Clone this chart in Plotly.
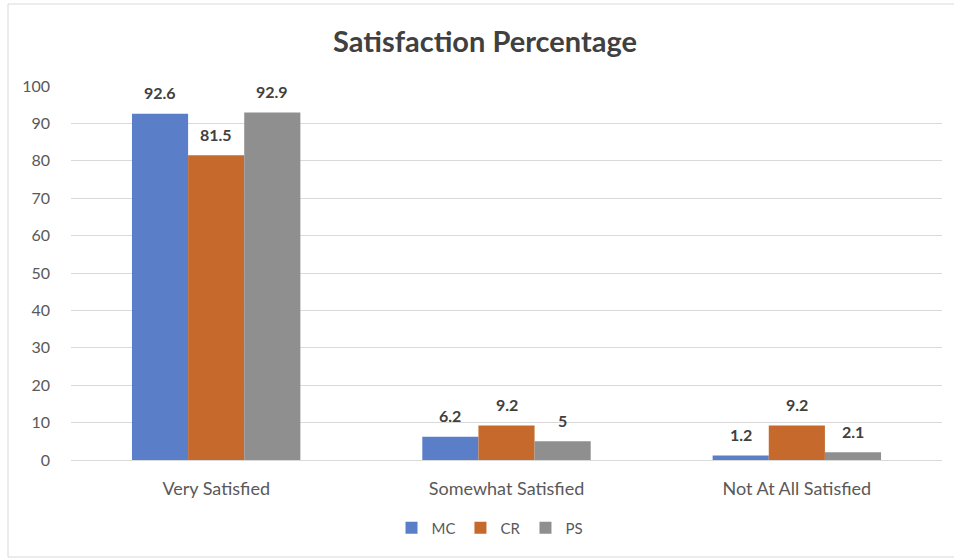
import plotly.graph_objects as go

categories = ["Very Satisfied", "Somewhat Satisfied", "Not At All Satisfied"]
series_names = ["MC", "CR", "PS"]
mc = [92.6, 6.2, 1.2]
cr = [81.5, 9.2, 9.2]
ps = [92.9, 5, 2.1]
colors = ["#5B7EC9", "#C5692C", "#8F8F8F"]
y_ticks = [0, 10, 20, 30, 40, 50, 60, 70, 80, 90, 100]

FONT = "Lato, 'Open Sans', sans-serif"
W, H = 954, 560
L, R, T, B = 71, 12, 86, 100
PW, PH = W - L - R, H - T - B
BARGAP = 0.42
bar_px = PW / len(categories) * (1 - BARGAP) / len(series_names)

fig = go.Figure()
annotations = []
for i, (name, vals, col) in enumerate(zip(series_names, [mc, cr, ps], colors)):
    fig.add_trace(go.Bar(
        name=name, x=categories, y=vals, marker=dict(color=col, line=dict(width=0)),
    ))
    for c, v in zip(categories, vals):
        annotations.append(dict(
            x=c, y=v, xref="x", yref="y", text=f"{v:g}", showarrow=False,
            xshift=(i - 1) * bar_px, yshift=21, yanchor="middle", xanchor="center",
            font=dict(family=FONT, size=16, color="#404040", weight="bold"),
        ))

fig.update_layout(
    width=W, height=H,
    margin=dict(l=L, r=R, t=T, b=B, autoexpand=False),
    paper_bgcolor="white", plot_bgcolor="white",
    barmode="group", bargap=BARGAP, bargroupgap=0,
    title=dict(text="<b>Satisfaction Percentage</b>", x=485 / W, xanchor="center",
               y=1 - 42 / H, yanchor="middle",
               font=dict(family=FONT, size=29, color="#404040")),
    font=dict(family=FONT, size=15, color="#595959"),
    legend=dict(orientation="h", x=(490 - L) / PW, xanchor="center",
                y=-(528 - (T + PH)) / PH, yanchor="middle",
                font=dict(family=FONT, size=15, color="#595959"),
                itemwidth=30, traceorder="normal", tracegroupgap=0),
    annotations=annotations,
)
fig.update_yaxes(range=[0, 100], tickvals=y_ticks, showgrid=True, gridcolor="#D9D9D9",
                 gridwidth=1, zeroline=False, showline=False, ticks="", ticklabelstandoff=20,
                 tickfont=dict(family=FONT, size=16, color="#595959"))
fig.update_xaxes(showline=True, linecolor="#D9D9D9", linewidth=1, ticks="",
                 ticklabelstandoff=12,
                 tickfont=dict(family=FONT, size=18, color="#595959"))
fig.add_shape(type="rect", xref="paper", yref="paper",
              x0=(8 - L) / PW, x1=(970 - L) / PW,
              y0=-(557 - (T + PH)) / PH, y1=((T + PH) - 4) / PH,
              line=dict(color="#D9D9D9", width=1), fillcolor="rgba(0,0,0,0)", layer="below")

fig.write_html("out.html", config={"displayModeBar": False},
               post_script="document.body.style.margin='0';document.body.style.overflow='hidden';")
